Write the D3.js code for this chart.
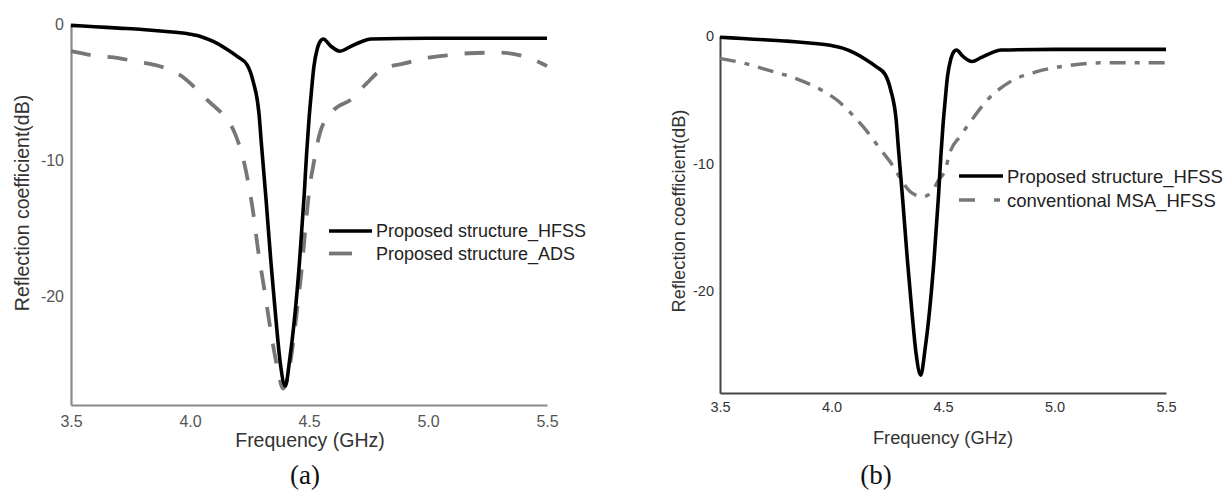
<!DOCTYPE html>
<html><head><meta charset="utf-8">
<script src="https://cdn.jsdelivr.net/npm/d3@7/dist/d3.min.js"></script>
<style>body{margin:0;background:#fff}</style>
</head><body>
<svg id="c" width="1226" height="490"></svg>
<script>
// Frequency (GHz) and reflection coefficient (dB)
const freqHFSS = [3.5, 3.6, 3.7, 3.8, 3.9, 4.0, 4.05, 4.1, 4.15, 4.2, 4.24, 4.265, 4.29, 4.30, 4.32, 4.34, 4.36, 4.38, 4.40, 4.42, 4.44, 4.46, 4.48, 4.49, 4.50, 4.51, 4.52, 4.535, 4.55, 4.56, 4.59, 4.63, 4.67, 4.72, 4.76, 5.0, 5.25, 5.5];
const s11HFSS  = [-0.1, -0.2, -0.3, -0.4, -0.55, -0.75, -0.95, -1.3, -1.8, -2.4, -3.0, -4.2, -6.6, -8.8, -13, -17.5, -21.5, -25, -26.6, -24.5, -21.5, -17.5, -12.5, -9.5, -7, -5, -3.2, -1.8, -1.2, -1.1, -1.6, -2.0, -1.7, -1.3, -1.1, -1.05, -1.05, -1.05];

const freqADS = [3.5, 3.59, 3.7, 3.77, 3.85, 3.92, 3.97, 4.01, 4.08, 4.14, 4.18, 4.205, 4.225, 4.245, 4.265, 4.286, 4.315, 4.345, 4.37, 4.39, 4.41, 4.429, 4.45, 4.47, 4.487, 4.504, 4.517, 4.546, 4.6, 4.68, 4.74, 4.81, 4.9, 4.99, 5.08, 5.17, 5.3, 5.44, 5.5];
const s11ADS  = [-2.0, -2.3, -2.5, -2.75, -3.0, -3.4, -3.9, -4.5, -5.7, -6.7, -7.7, -8.8, -10.0, -11.7, -13.8, -16.6, -19.8, -23.2, -25.5, -26.8, -26, -24, -21, -17.9, -14.6, -11.8, -10.5, -8.0, -6.4, -5.5, -4.4, -3.3, -2.9, -2.5, -2.3, -2.15, -2.1, -2.6, -3.1];

const freqMSA = [3.5, 3.6, 3.72, 3.85, 3.95, 4.03, 4.1, 4.16, 4.22, 4.276, 4.32, 4.36, 4.41, 4.45, 4.48, 4.51, 4.53, 4.58, 4.62, 4.70, 4.80, 4.92, 5.07, 5.22, 5.5];
const s11MSA  = [-1.75, -2.1, -2.7, -3.4, -4.2, -5.1, -6.3, -7.5, -8.9, -10.2, -11.5, -12.3, -12.6, -12.2, -11.3, -10.5, -9.2, -7.8, -6.8, -5.0, -3.6, -2.8, -2.3, -2.1, -2.1];

const xTicks = [3.5, 4.0, 4.5, 5.0, 5.5];
const yTicks = [0, -10, -20];
const seriesNamesA = ["Proposed structure_HFSS", "Proposed structure_ADS"];
const seriesNamesB = ["Proposed structure_HFSS", "conventional MSA_HFSS"];

const svg = d3.select("#c");
const zip = (f, v) => f.map((d, i) => ({f: d, v: v[i]}));

const panels = [
  {
    x0: 71, x1: 547, yTop: 24, yBot: 405, axisColor: "#8a8a8a", axisW: 2.2,
    tickColor: "#555", tickFont: 16, yPad: 7, xPad: 11,
    labelColor: "#333", labelFont: 19.5, ylabX: 22, ylabY: 203, xlabX: 310, xlabY: 440,
    cap: "(a)", capX: 305, capY: 475,
    series: [
      {data: zip(freqHFSS, s11HFSS), color: "#000", w: 3.6, dash: null, legDash: null, legEnd: 372, name: seriesNamesA[0]},
      {data: zip(freqADS, s11ADS), color: "#777", w: 3.8, dash: "20,17", legDash: null, legEnd: 352, name: seriesNamesA[1]}
    ],
    leg: {x0: 329, y: 231, dy: 22.5, tx: 376, font: 18}
  },
  {
    x0: 720, x1: 1166, yTop: 36, yBot: 393, axisColor: "#444", axisW: 2,
    tickColor: "#333", tickFont: 14.5, yPad: 6, xPad: 9,
    labelColor: "#333", labelFont: 18.3, ylabX: 678, ylabY: 211, xlabX: 943, xlabY: 437,
    cap: "(b)", capX: 876, capY: 475,
    series: [
      {data: zip(freqHFSS, s11HFSS), color: "#000", w: 3.6, dash: null, legDash: null, legEnd: 1003, name: seriesNamesB[0]},
      {data: zip(freqMSA, s11MSA), color: "#777", w: 3.4, dash: "16,9,5,9", legDash: "16,19,6,200", legEnd: 1003, name: seriesNamesB[1]}
    ],
    leg: {x0: 959, y: 176, dy: 24, tx: 1007, font: 18.5}
  }
];

panels.forEach(p => {
  const x = d3.scaleLinear().domain([3.5, 5.5]).range([p.x0, p.x1]);
  const y = d3.scaleLinear().domain([-28, 0]).range([p.yBot, p.yTop]);
  const g = svg.append("g");

  const ya = g.append("g").attr("transform", `translate(${p.x0},0)`)
    .call(d3.axisLeft(y).tickValues(yTicks).tickSize(0).tickPadding(p.yPad).tickFormat(d => String(d)));
  const xa = g.append("g").attr("transform", `translate(0,${p.yBot})`)
    .call(d3.axisBottom(x).tickValues(xTicks).tickSize(0).tickPadding(p.xPad).tickFormat(d3.format(".1f")));
  [ya, xa].forEach(a => {
    a.select(".domain").attr("stroke", p.axisColor).attr("stroke-width", p.axisW);
    a.selectAll("text").attr("fill", p.tickColor).style("font-family", "Arial, 'Liberation Sans', sans-serif")
      .style("font-size", p.tickFont + "px");
  });

  const line = d3.line().x(d => x(d.f)).y(d => y(d.v)).curve(d3.curveMonotoneX);
  p.series.slice().reverse().forEach(s => {
    g.append("path").datum(s.data).attr("d", line).attr("fill", "none")
      .attr("stroke", s.color).attr("stroke-width", s.w)
      .attr("stroke-dasharray", s.dash).attr("stroke-linejoin", "round");
  });

  // legend
  p.series.forEach((s, i) => {
    const ly = p.leg.y + i * p.leg.dy;
    g.append("line").attr("x1", p.leg.x0).attr("x2", s.legEnd).attr("y1", ly).attr("y2", ly)
      .attr("stroke", s.color).attr("stroke-width", s.w).attr("stroke-dasharray", s.legDash);
    g.append("text").attr("x", p.leg.tx).attr("y", ly).attr("dominant-baseline", "central")
      .attr("fill", "#222").style("font-family", "Arial, 'Liberation Sans', sans-serif")
      .style("font-size", p.leg.font + "px").text(s.name);
  });

  g.append("text").attr("transform", `translate(${p.ylabX},${p.ylabY}) rotate(-90)`)
    .attr("text-anchor", "middle").attr("dominant-baseline", "central")
    .attr("fill", p.labelColor).style("font-family", "Arial, 'Liberation Sans', sans-serif")
    .style("font-size", p.labelFont + "px").text("Reflection coefficient(dB)");
  g.append("text").attr("x", p.xlabX).attr("y", p.xlabY)
    .attr("text-anchor", "middle").attr("dominant-baseline", "central")
    .attr("fill", p.labelColor).style("font-family", "Arial, 'Liberation Sans', sans-serif")
    .style("font-size", p.labelFont + "px").text("Frequency (GHz)");
  g.append("text").attr("x", p.capX).attr("y", p.capY)
    .attr("text-anchor", "middle").attr("dominant-baseline", "central")
    .attr("fill", "#111").style("font-family", "'Times New Roman', 'Liberation Serif', serif")
    .style("font-size", "27px").text(p.cap);
});
</script>
</body></html>
